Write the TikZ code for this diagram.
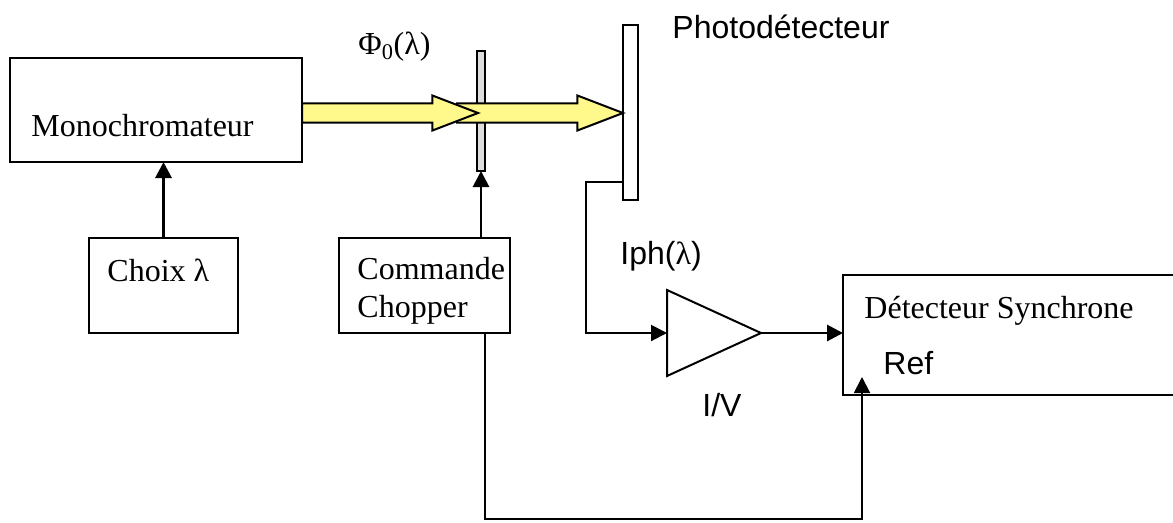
\documentclass[tikz,border=0pt]{standalone}
\usepackage{fontspec}
\setmainfont{Liberation Serif}
\newfontfamily\labelsans{Liberation Sans}
\usetikzlibrary{arrows.meta, positioning, calc, shapes.arrows, shapes.geometric}

\begin{document}
\begin{tikzpicture}[x=0.75pt, y=-0.75pt, >={Triangle[length=12pt,width=12pt]},
  every node/.style={outer sep=0pt, font=\fontsize{24}{28}\selectfont},
  block/.style={draw, line width=1.5pt, inner sep=0pt},
  beam/.style={single arrow, draw, fill=yellow!45, line width=1.5pt, inner sep=0pt,
    minimum width=24.5pt, single arrow head extend=6pt, single arrow tip angle=42,
    single arrow head indent=0pt, text height=12.8pt, text depth=0pt, text width=0pt, anchor=tip},
  wire/.style={line width=1.5pt},
  thickwire/.style={line width=2.2pt},
  sanslabel/.style={font=\fontsize{24}{28}\selectfont\labelsans}]

\clip (0,0) rectangle (1173,522);

% Blocks
\node[block, minimum width=219pt, minimum height=78pt] (mono) at (156,110) {};
\node[block, minimum width=111.75pt, minimum height=71.25pt] (choix) at (163.5,285.5) {};
\node[block, minimum width=128.25pt, minimum height=71.25pt] (cmd) at (424.5,285.5) {};
\node[block, minimum width=255pt, minimum height=90pt] (sync) at (1013,335) {};

% Chopper and photodetector
\node[block, fill=black!13, minimum width=5.6pt, minimum height=90pt] (chopper) at (481,111) {};
\node[block, fill=white, minimum width=11.25pt, minimum height=131.25pt] (photo) at (630.5,112.5) {};

% Light beams
\node[beam, minimum height=124.5pt] (beamb) at (623,113) {};
\node[beam, minimum height=132pt] (beama) at (478,113) {};

% Amplifier
\node[draw, line width=1.5pt, isosceles triangle, isosceles triangle apex angle=49,
  isosceles triangle stretches, inner sep=0pt, minimum height=70.5pt, minimum width=64.5pt,
  anchor=lower side] (amp) at (667,333) {};

% Labels
\node[anchor=west] (lmono) at (27,126) {Monochromateur};
\node[anchor=west] (lchoix) at (103,270) {Choix λ};
\node[anchor=west] (lcmda) at (353,269) {Commande};
\node[anchor=west] (lcmdb) at (353,310) {Chopper};
\node[anchor=west] (lsync) at (860,311) {Détecteur Synchrone};
\node[anchor=west, sanslabel] (lref) at (879,363) {Ref};
\node[anchor=west, sanslabel] (lphoto) at (668,27) {Photodétecteur};
\node[anchor=west, sanslabel] (liph) at (616,256) {Iph({\rmfamily λ})};
\node[anchor=west, sanslabel] (liv) at (698,405) {I/V};
\node[anchor=west] (lphi) at (354,47) {Φ\textsubscript{0}(λ)};

% Connections
\draw[thickwire, ->] (choix.north) -- (choix.north |- mono.south);
\draw[thickwire, ->] (chopper.south |- cmd.north) -- (chopper.south);
\coordinate (photoout) at ($(photo.west)+(0,69.5)$);
\draw[wire, ->] (photoout) -| (586,333) -- (amp.lower side);
\draw[thickwire, ->] (amp.apex) -- (amp.apex -| sync.west);
\coordinate (refin) at (862,377);
\draw[wire, ->] (485,333) |- (862,519) -- (refin);

\end{tikzpicture}
\end{document}
